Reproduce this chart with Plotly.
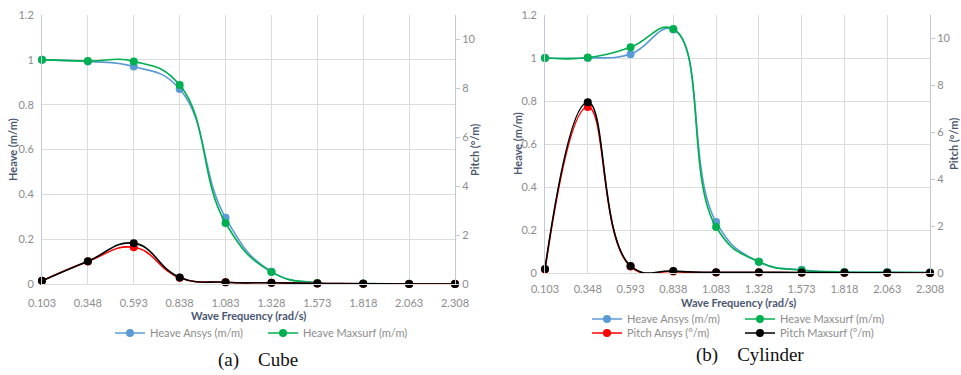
import plotly.graph_objects as go

freq = ["0.103", "0.348", "0.593", "0.838", "1.083", "1.328", "1.573", "1.818", "2.063", "2.308"]

# (a) Cube
cube_heave_ansys = [1.0, 0.993, 0.97, 0.87, 0.295, 0.055, 0.005, 0.002, 0.001, 0.001]
cube_heave_maxsurf = [1.0, 0.995, 0.993, 0.888, 0.272, 0.054, 0.004, 0.002, 0.001, 0.001]
cube_pitch_ansys = [0.13, 0.92, 1.5, 0.26, 0.07, 0.05, 0.02, 0.01, 0.0, 0.0]
cube_pitch_maxsurf = [0.13, 0.93, 1.67, 0.27, 0.07, 0.05, 0.02, 0.01, 0.0, 0.0]

# (b) Cylinder
cyl_heave_ansys = [1.0, 1.0, 1.018, 1.133, 0.237, 0.052, 0.015, 0.005, 0.003, 0.002]
cyl_heave_maxsurf = [1.0, 1.002, 1.05, 1.135, 0.214, 0.052, 0.012, 0.005, 0.003, 0.002]
cyl_pitch_ansys = [0.15, 7.08, 0.28, 0.06, 0.02, 0.02, 0.01, 0.01, 0.0, 0.0]
cyl_pitch_maxsurf = [0.17, 7.28, 0.3, 0.08, 0.03, 0.03, 0.02, 0.01, 0.01, 0.0]

names = ["Heave Ansys (m/m)", "Heave Maxsurf (m/m)", "Pitch Ansys (°/m)", "Pitch Maxsurf (°/m)"]
colors = ["#5B9BD5", "#00B050", "#FF0000", "#000000"]

FONT = "Lato, Open Sans, sans-serif"
TICK = "#8C8C8C"
TITLE = "#4A5670"
GRID = "#DCDCDC"
LINE = "#C4CAD4"

fig = go.Figure()

def add(x, y, name, color, xa, ya, legend, show):
    fig.add_trace(go.Scatter(
        x=x, y=y, name=name, mode="lines+markers",
        line=dict(color=color, width=1.6, shape="spline", smoothing=1.3),
        marker=dict(color=color, size=8),
        xaxis=xa, yaxis=ya, legend=legend, showlegend=show, cliponaxis=False,
    ))

# left
add(freq, cube_heave_ansys, names[0], colors[0], "x", "y", "legend", True)
add(freq, cube_heave_maxsurf, names[1], colors[1], "x", "y", "legend", True)
add(freq, cube_pitch_ansys, names[2], colors[2], "x", "y2", "legend", False)
add(freq, cube_pitch_maxsurf, names[3], colors[3], "x", "y2", "legend", False)
# right
add(freq, cyl_heave_ansys, names[0], colors[0], "x2", "y3", "legend2", True)
add(freq, cyl_heave_maxsurf, names[1], colors[1], "x2", "y3", "legend2", True)
add(freq, cyl_pitch_ansys, names[2], colors[2], "x2", "y4", "legend3", True)
add(freq, cyl_pitch_maxsurf, names[3], colors[3], "x2", "y4", "legend3", True)

W, H = 961, 375
L_x0, L_x1, L_yb, L_yt = 42, 455, 284, 15
R_x0, R_x1, R_yb, R_yt = 545, 930, 273, 15

def px(v):
    return v / W

def py(v):
    return 1 - v / H

tickfont = dict(family=FONT, size=11, color=TICK)

def xaxis(dom, anchor, standoff):
    return dict(domain=[px(dom[0]), px(dom[1])], anchor=anchor, type="category",
                range=[0, 9], showgrid=True, gridcolor=GRID, gridwidth=1,
                showline=True, linecolor=GRID, ticks="", tickfont=tickfont,
                zeroline=False, automargin=False, fixedrange=True,
                ticklabelstandoff=standoff)

def yaxis(dom, anchor):
    return dict(domain=[py(dom[0]), py(dom[1])], anchor=anchor, range=[0, 1.2], dtick=0.2,
                showgrid=True, gridcolor=GRID, showline=True, linecolor=LINE,
                ticks="", tickfont=tickfont, zeroline=False, automargin=False,
                ticklabelstandoff=5)

def y2axis(over, anchor):
    return dict(overlaying=over, anchor=anchor, side="right", range=[0, 11], dtick=2,
                showgrid=False, showline=True, linecolor=LINE, ticks="outside",
                ticklen=4, tickcolor=LINE, tickfont=tickfont, zeroline=False,
                automargin=False)

leg_font = dict(family=FONT, size=11, color=TICK)

def legend(xc, yc):
    return dict(orientation="h", x=px(xc), y=py(yc), xanchor="center", yanchor="middle",
                font=leg_font, entrywidth=108, entrywidthmode="pixels", itemwidth=30,
                bgcolor="rgba(0,0,0,0)", tracegroupgap=0)

fig.update_layout(
    width=W, height=H, margin=dict(l=0, r=0, t=0, b=0),
    paper_bgcolor="white", plot_bgcolor="white",
    font=dict(family=FONT),
    xaxis=xaxis((L_x0, L_x1), "y", 9),
    yaxis=yaxis((L_yb, L_yt), "x"),
    yaxis2=y2axis("y", "x"),
    xaxis2=xaxis((R_x0, R_x1), "y3", 6),
    yaxis3=yaxis((R_yb, R_yt), "x2"),
    yaxis4=y2axis("y3", "x2"),
    legend=legend(263, 333),
    legend2=legend(740, 319),
    legend3=legend(740, 333),
)

ann = []
tfont = dict(family=FONT, size=11, color=TITLE)
ann.append(dict(text="<b>Heave (m/m)</b>", x=px(12), y=py(150), textangle=-90, font=tfont))
ann.append(dict(text="<b>Pitch (°/m)</b>", x=px(474), y=py(150), textangle=-90, font=tfont))
ann.append(dict(text="<b>Wave Frequency (rad/s)</b>", x=px(249), y=py(315), font=tfont))
ann.append(dict(text="<b>Heave (m/m)</b>", x=px(517), y=py(144), textangle=-90, font=tfont))
ann.append(dict(text="<b>Pitch (°/m)</b>", x=px(953), y=py(144), textangle=-90, font=tfont))
ann.append(dict(text="<b>Wave Frequency (rad/s)</b>", x=px(738), y=py(302), font=tfont))
cfont = dict(family="Liberation Serif, Times New Roman, serif", size=19, color="#111111")
ann.append(dict(text="(a)\u00a0\u00a0\u00a0\u00a0Cube", x=px(258), y=py(360), font=cfont))
ann.append(dict(text="(b)\u00a0\u00a0\u00a0\u00a0Cylinder", x=px(750), y=py(355), font=cfont))
for a in ann:
    a.update(xref="paper", yref="paper", showarrow=False, xanchor="center", yanchor="middle")
fig.update_layout(annotations=ann)

fig.write_html("out.html")
